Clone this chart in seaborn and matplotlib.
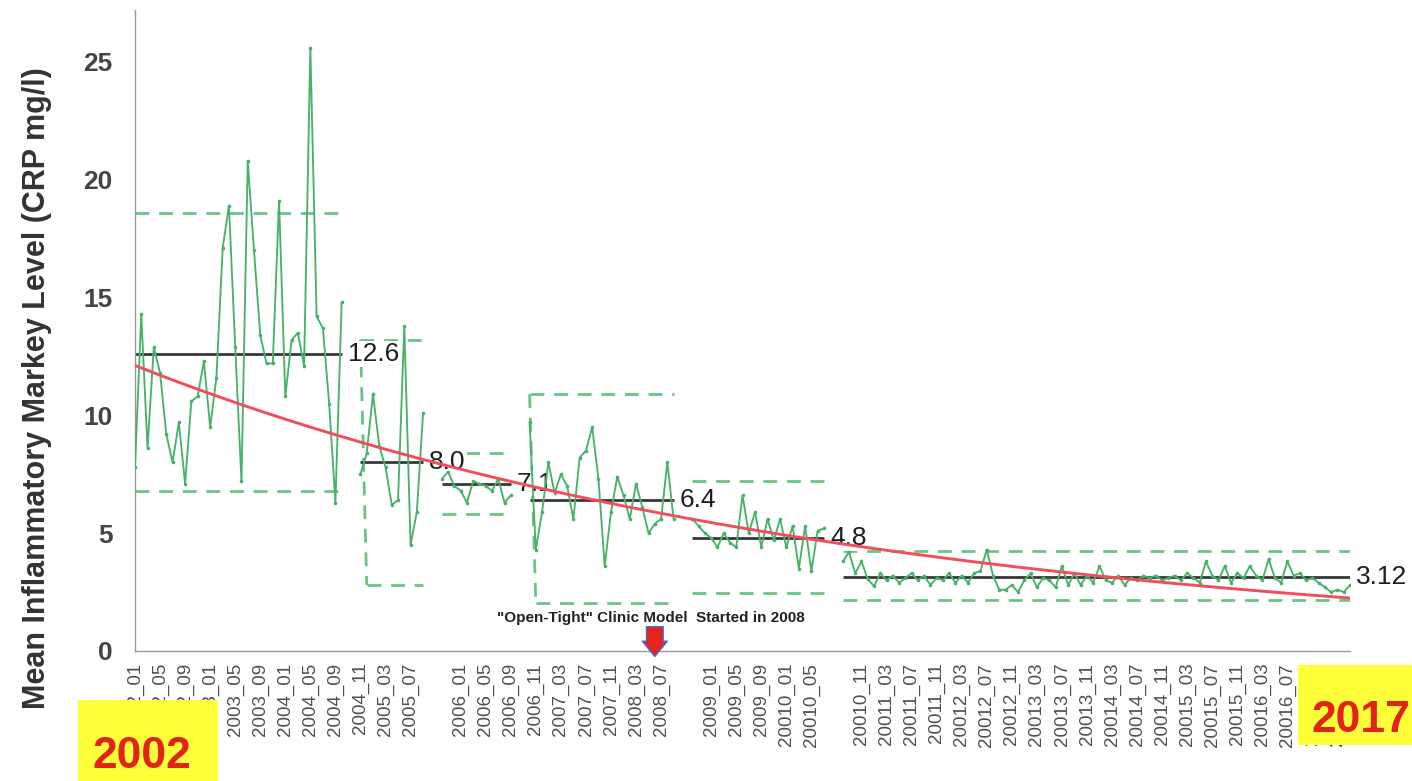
import numpy as np
import pandas as pd
import matplotlib
matplotlib.use("Agg")
import matplotlib.pyplot as plt
from matplotlib.patches import Rectangle
import seaborn as sns

# ---------------- data ----------------
stage_first = ["2002_01", "2004_11", "2005_10", "2006_10", "2008_10", "2010_08"]
stage_last = ["2004_10", "2005_09", "2006_09", "2008_09", "2010_07", "2017_05"]
stage_mean = [12.6, 8.0, 7.1, 6.4, 4.8, 3.12]
stage_mean_text = ["12.6", "8.0", "7.1", "6.4", "4.8", "3.12"]
stage_ucl = [18.6, 13.2, 8.4, 10.9, 7.2, 4.25]
stage_lcl = [6.8, 2.8, 5.8, 2.05, 2.45, 2.15]
stage_drop = [False, True, False, True, False, False]

crp_stage1 = [7.8, 14.3, 8.6, 12.9, 11.8, 9.2, 8.0, 9.7, 7.1, 10.6, 10.8, 12.3,
              9.5, 11.6, 17.1, 18.9, 12.9, 7.2, 20.8, 17.0, 13.4, 12.2, 12.2,
              19.1, 10.8, 13.2, 13.5, 12.1, 25.6, 14.2, 13.7, 10.5, 6.3, 14.8]
crp_stage2 = [7.5, 8.4, 10.9, 8.7, 7.8, 6.2, 6.4, 13.8, 4.5, 5.9, 10.1]
crp_stage3 = [7.3, 7.6, 7.0, 6.8, 6.3, 7.2, 7.1, 7.0, 6.8, 7.3, 6.3, 6.6]
crp_stage4 = [9.7, 4.3, 5.9, 8.0, 6.7, 7.5, 7.0, 5.6, 8.2, 8.5, 9.5, 7.3,
              3.6, 5.9, 7.4, 6.6, 5.6, 7.1, 6.1, 5.0, 5.4, 5.6, 8.0, 5.6]
crp_stage5 = [5.6, 5.3, 5.0, 4.8, 4.4, 5.0, 4.6, 4.4, 6.6, 5.0, 5.9, 4.4,
              5.6, 4.7, 5.6, 4.4, 5.3, 3.5, 5.3, 3.4, 5.1, 5.2]
crp_stage6 = [3.8, 4.2, 3.3, 3.8, 3.05, 2.75, 3.3, 3.0, 3.2, 2.9,
              3.1, 3.3, 3.0, 3.2, 2.8, 3.1, 3.0, 3.3, 2.9, 3.2,
              2.9, 3.3, 3.4, 4.3, 3.2, 2.6, 2.6, 2.8, 2.5, 3.0,
              3.3, 2.7, 3.1, 3.0, 2.7, 3.6, 2.8, 3.3, 2.8, 3.2,
              2.9, 3.6, 3.0, 2.9, 3.2, 2.8, 3.1, 3.0, 3.2, 3.1,
              3.2, 3.0, 3.1, 3.2, 3.0, 3.3, 3.1, 2.9, 3.8, 3.2,
              3.0, 3.6, 2.9, 3.3, 3.1, 3.6, 3.2, 3.0, 3.9, 3.1,
              2.9, 3.8, 3.2, 3.3, 3.0, 3.1, 2.9, 2.7, 2.5, 2.6, 2.5, 2.8]
crp_stages = [crp_stage1, crp_stage2, crp_stage3, crp_stage4, crp_stage5, crp_stage6]

gap_blank_categories = 2
y_ticks = [0, 5, 10, 15, 20, 25]
y_label = "Mean Inflammatory Markey Level (CRP mg/l)"
note_text = '"Open-Tight" Clinic Model  Started in 2008'
note_month = "2008_06"
year_start_text = "2002"
year_end_text = "2017"


def month_range(a, b):
    y, m = map(int, a.split("_"))
    y1, m1 = map(int, b.split("_"))
    out = []
    while (y, m) <= (y1, m1):
        out.append(f"200{y - 2000}_{m:02d}")
        m += 1
        if m > 12:
            y, m = y + 1, 1
    return out


categories = []
rows = []
for s, (a, b, vals) in enumerate(zip(stage_first, stage_last, crp_stages)):
    if s > 0:
        categories += [""] * gap_blank_categories
    months = month_range(a, b)
    for mo, v in zip(months, vals):
        rows.append(dict(idx=len(categories), month=mo, crp=v, stage=s))
        categories.append(mo)
df = pd.DataFrame(rows)

# ---------------- style ----------------
sns.set_style("white")
plt.rcParams["font.family"] = ["Liberation Sans Narrow", "Liberation Sans", "DejaVu Sans"]

GREEN = "#48b26b"
DASH = "#6ac486"
RED = "#f04e5c"
DARK = "#383838"

fig = plt.figure(figsize=(14.12, 7.81), dpi=100)
ax = fig.add_axes([135 / 1412, 1 - 651 / 781, (1350 - 135) / 1412, (651 - 10) / 781])

# data line (segments per stage)
sns.lineplot(data=df, x="idx", y="crp", units="stage", estimator=None, color=GREEN,
             linewidth=1.35, marker="o", markersize=2.6, markeredgewidth=0,
             legend=False, ax=ax, zorder=4)

# stage mean, control limits and labels
for s in range(len(stage_first)):
    sub = df[df["stage"] == s]
    x0, x1 = sub["idx"].min(), sub["idx"].max()
    ax.hlines(stage_mean[s], x0, x1, color=DARK, lw=2.0, zorder=2)
    ax.hlines(stage_ucl[s], x0, x1, colors=DASH, lw=2.0, linestyles=(0, (5, 3.5)), zorder=1)
    lx0 = x0 + 1 if stage_drop[s] else x0
    ax.hlines(stage_lcl[s], lx0, x1, colors=DASH, lw=2.0, linestyles=(0, (5, 3.5)), zorder=1)
    if stage_drop[s]:
        ax.plot([x0, x0 + 1], [stage_ucl[s], stage_lcl[s]], color=DASH, lw=2.0,
                ls=(0, (5, 3.5)), zorder=1)
    ax.text(x1 + 1.0, stage_mean[s], stage_mean_text[s], ha="left", va="center",
            fontsize=19, color="#1e1e1e", zorder=3,
            bbox=dict(fc="white", ec="none", pad=0.6))

# exponential trend line fitted on the category index
coef = np.polyfit(df["idx"].values, np.log(df["crp"].values), 1)
xs = np.arange(len(categories))
trend = np.exp(np.polyval(coef, xs))
sns.lineplot(x=xs, y=trend, color=RED, linewidth=2.1, ax=ax, zorder=5)

# axes
ax.set_xlim(0, len(categories) - 1)
ax.set_ylim(0, 27.2)
major = list(range(0, len(categories), 4))
ax.set_xticks(major)
ax.set_xticklabels([categories[i] for i in major], rotation=90)
ax.set_xticks(range(len(categories)), minor=True)
ax.tick_params(axis="x", which="both", direction="inout", length=7, width=0.8,
               color="#9a9a9a", labelsize=13.5, labelcolor="#505050", pad=5)
ax.set_yticks(y_ticks)
ax.tick_params(axis="y", direction="out", length=5, width=0.8, color="#9a9a9a",
               labelsize=19, labelcolor="#444444", pad=11)
for t in ax.get_yticklabels():
    t.set_fontweight("bold")
ax.set_xlabel("")
ax.set_ylabel(y_label, fontsize=22, fontweight="bold", color="#333333")
ax.yaxis.set_label_coords(-0.068, 0.41)
for side in ["top", "right"]:
    ax.spines[side].set_visible(False)
for side in ["left", "bottom"]:
    ax.spines[side].set_color("#9a9a9a")
    ax.spines[side].set_linewidth(1.0)

# annotation and arrow
nx = categories.index(note_month)
ax.text(nx - 0.6, 1.42, note_text, ha="center", va="center", fontsize=11,
        fontweight="bold", color="#222222", zorder=6)
ax.annotate("", xy=(nx, -0.35), xytext=(nx, 1.15), annotation_clip=False,
            arrowprops=dict(arrowstyle="simple,head_width=0.9,head_length=0.55,tail_width=0.6",
                            mutation_scale=20, fc="#e8231d", ec="#3b6fd1", lw=1.0),
            zorder=7)

# yellow year boxes
fig.add_artist(Rectangle((78 / 1412, 0), 140 / 1412, 81 / 781, transform=fig.transFigure,
                         fc="#ffff3a", ec="none", zorder=10))
fig.text(142 / 1412, 1 - 756 / 781, year_start_text, ha="center", va="center",
         fontsize=32, fontweight="bold", color="#e2231a", zorder=11)
fig.add_artist(Rectangle((1298 / 1412, 1 - 745 / 781), 114 / 1412, 80 / 781,
                         transform=fig.transFigure, fc="#ffff3a", ec="none", zorder=10))
fig.text(1361 / 1412, 1 - 720 / 781, year_end_text, ha="center", va="center",
         fontsize=32, fontweight="bold", color="#e2231a", zorder=11)

fig.savefig("out.png", dpi=100)
